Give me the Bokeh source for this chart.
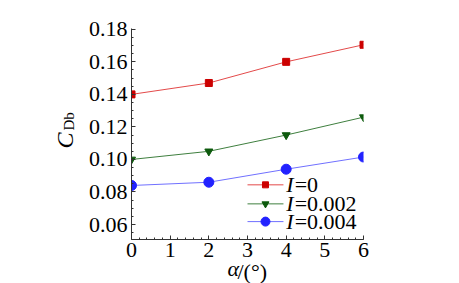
import numpy as np
from bokeh.plotting import figure
from bokeh.models import Range1d, FixedTicker, Title, CustomJSTickFormatter
from bokeh.core.properties import value
from bokeh.embed import file_html
from bokeh.resources import INLINE

alpha = [0, 2, 4, 6]
cdb_I0 = [0.140, 0.147, 0.160, 0.1705]
cdb_I002 = [0.100, 0.105, 0.115, 0.126]
cdb_I004 = [0.084, 0.086, 0.094, 0.1015]
labels = ["0", "0.002", "0.004"]
y_ticks = [0.06, 0.08, 0.10, 0.12, 0.14, 0.16, 0.18]
x_ticks = [0, 1, 2, 3, 4, 5, 6]

FONT = "Times New Roman, Liberation Serif, serif"
FS = "22px"

p = figure(width=459, height=283, output_backend="svg", toolbar_location=None,
           x_range=Range1d(0, 6), y_range=Range1d(0.0508, 0.1805),
           min_border_left=131, min_border_right=96, min_border_top=28, min_border_bottom=44)
p.outline_line_color = None
p.grid.visible = False
p.background_fill_color = "white"
p.border_fill_color = "white"

for ax in (p.xaxis[0], p.yaxis[0]):
    ax.major_tick_in = 4
    ax.major_tick_out = 0
    ax.minor_tick_in = 2
    ax.minor_tick_out = 0
    ax.axis_line_color = "#333333"
    ax.major_tick_line_color = "#333333"
    ax.minor_tick_line_color = "#333333"
    ax.major_label_text_font = FONT
    ax.major_label_text_font_size = FS
    ax.major_label_text_color = "black"
    ax.major_label_standoff = 4
p.xaxis[0].major_label_standoff = 3

p.xaxis[0].ticker = FixedTicker(ticks=x_ticks, minor_ticks=list(np.arange(0, 6.01, 0.2)))
p.yaxis[0].ticker = FixedTicker(ticks=y_ticks, minor_ticks=list(np.arange(0.05, 0.1801, 0.005)))
p.yaxis[0].formatter = CustomJSTickFormatter(code="return tick.toFixed(2);")

series = [
    (cdb_I0, "#cc0000", "#e34a4a", "square", 7),
    (cdb_I002, "#0d5a0d", "#3f7f3f", "inverted_triangle", 8),
    (cdb_I004, "#2222ff", "#7070ff", "circle", 10),
]
for ys, mc, lc, mk, sz in series:
    p.line(alpha, ys, line_color=lc, line_width=1)
    p.scatter(alpha, ys, marker=mk, size=sz, fill_color=mc, line_color=mc)

# legend (manual, to allow italic I)
leg_x0, leg_x1 = 3.0, 3.93
leg_rows = [0.0844, 0.0727, 0.0618]
for (ys, mc, lc, mk, sz), ly, lab in zip(series, leg_rows, labels):
    p.line([leg_x0, leg_x1], [ly, ly], line_color=lc, line_width=1)
    p.scatter([(leg_x0 + leg_x1) / 2], [ly], marker=mk, size=sz - 1, fill_color=mc, line_color=mc)
    p.text([4.0], [ly], text=["I"], text_font=value(FONT), text_font_style="italic",
           text_font_size=FS, text_baseline="middle", text_align="left", text_color="black")
    p.text([4.22], [ly], text=["=" + lab], text_font=value(FONT),
           text_font_size=FS, text_baseline="middle", text_align="left", text_color="black")

# axis titles as side-panel Titles
def ttl(txt, loc, size, italic=False, offset=0, standoff=0, valign="bottom"):
    p.add_layout(Title(text=txt, align="left", offset=offset, standoff=standoff,
                       vertical_align=valign,
                       text_font=FONT, text_font_style="italic" if italic else "normal",
                       text_font_size=size, text_color="black"), loc)

ttl("Db", "left", "15px", offset=109, standoff=17)
ttl("C", "left", "24px", italic=True, offset=91, standoff=-54)
ttl("α", "below", FS, italic=True, offset=96, standoff=-8, valign="top")
ttl("/(°)", "below", FS, offset=106, standoff=-40, valign="top")

open("out.html", "w").write(file_html(p, INLINE))
